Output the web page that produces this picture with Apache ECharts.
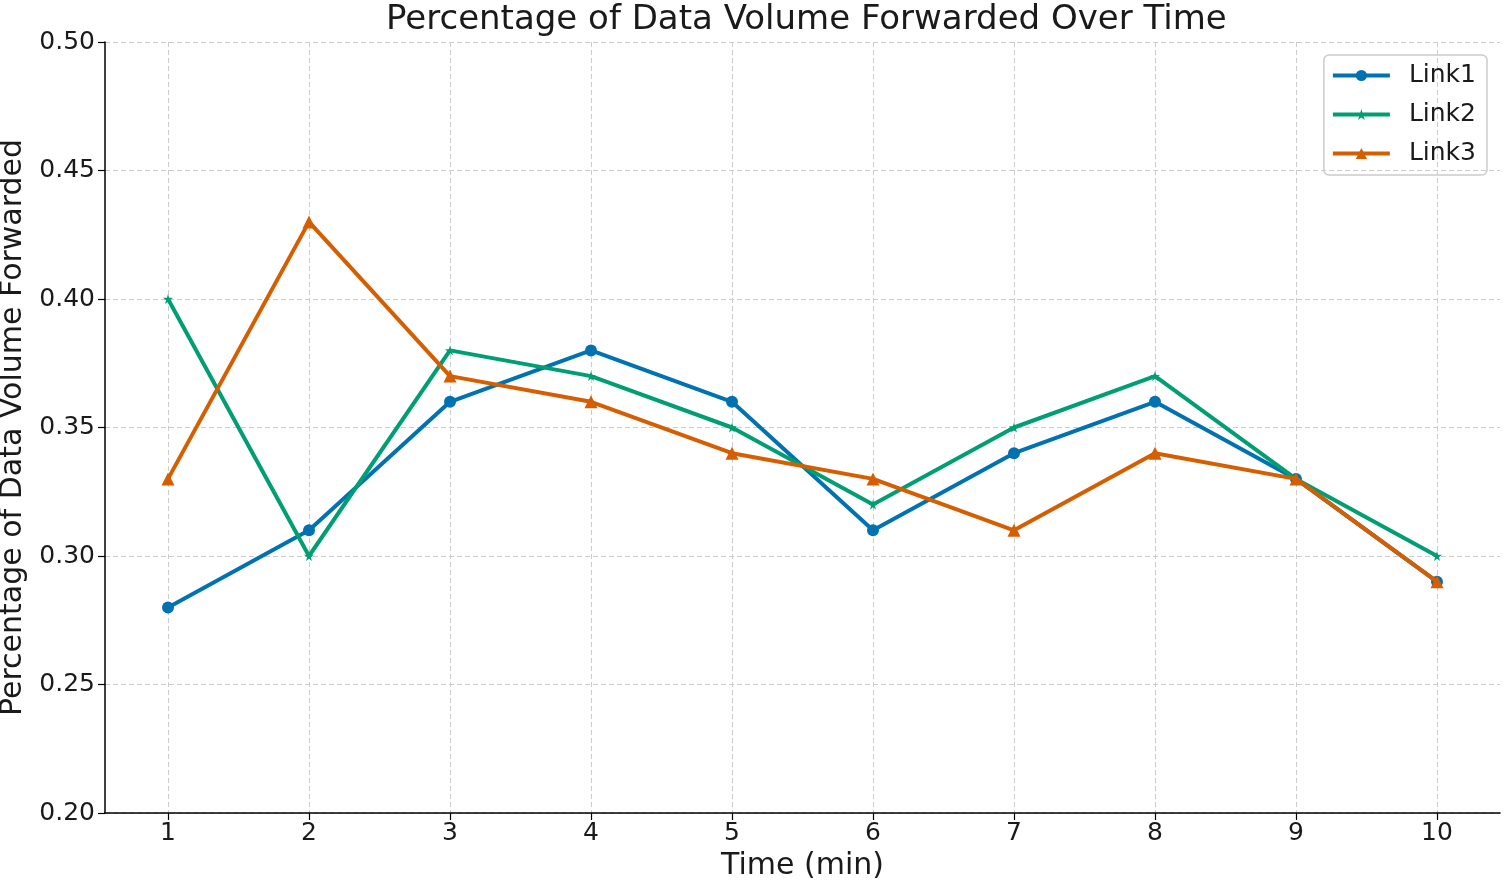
<!DOCTYPE html>
<html>
<head>
<meta charset="utf-8">
<script src="https://cdn.jsdelivr.net/npm/echarts@6/dist/echarts.min.js"></script>
<style>html,body{margin:0;padding:0;background:#fff;}#c{width:1505px;height:884px;}</style>
</head>
<body>
<div id="c"></div>
<script>
const times = [1, 2, 3, 4, 5, 6, 7, 8, 9, 10];
const link1 = [0.28, 0.31, 0.36, 0.38, 0.36, 0.31, 0.34, 0.36, 0.33, 0.29];
const link2 = [0.40, 0.30, 0.38, 0.37, 0.35, 0.32, 0.35, 0.37, 0.33, 0.30];
const link3 = [0.33, 0.43, 0.37, 0.36, 0.34, 0.33, 0.31, 0.34, 0.33, 0.29];
const seriesNames = ['Link1', 'Link2', 'Link3'];

const FONT = 'DejaVu Sans';
const star = 'path://M50,0 L61,35 L98,35 L68,57 L79,91 L50,70 L21,91 L32,57 L2,35 L39,35 Z';
const colors = ['#0072B2', '#009E73', '#D55E00'];
const symbols = ['circle', star, 'triangle'];
const sizes = [12, 10, 13];
const allData = [link1, link2, link3];

const chart = echarts.init(document.getElementById('c'));
const G = {top: 42, bottom: 71};
chart.setOption({
  animation: false,
  backgroundColor: '#fff',
  title: {
    text: 'Percentage of Data Volume Forwarded Over Time',
    left: 381, top: -2,
    textStyle: {fontFamily: FONT, fontSize: 34, fontWeight: 'normal', color: '#1a1a1a'}
  },
  legend: {
    orient: 'vertical', right: 18, top: 55,
    itemWidth: 57, itemHeight: 14, itemGap: 14,
    padding: [8, 11, 9, 7],
    borderColor: '#ccc', borderWidth: 1.5, borderRadius: 5,
    lineStyle: {width: 4},
    textStyle: {fontFamily: FONT, fontSize: 25, color: '#1a1a1a', padding: [0, 0, 0, 14]},
    data: seriesNames
  },
  grid: [
    {left: 105, right: 5, top: G.top, bottom: G.bottom, outerBoundsMode: 'none', containLabel: false},
    {left: 168, right: 68, top: G.top, bottom: G.bottom, outerBoundsMode: 'none', containLabel: false}
  ],
  xAxis: [
    {gridIndex: 0, type: 'value', min: 0, max: 1,
      axisLine: {show: true, lineStyle: {color: '#000', width: 1.5}},
      axisTick: {show: false}, axisLabel: {show: false}, splitLine: {show: false}},
    {gridIndex: 1, type: 'value', min: 1, max: 10, interval: 1,
      name: 'Time (min)', nameLocation: 'middle', nameGap: 38,
      nameTextStyle: {fontFamily: FONT, fontSize: 30, color: '#1a1a1a'},
      axisLine: {show: false},
      axisTick: {show: true, length: 7, lineStyle: {color: '#000', width: 1.2}},
      axisLabel: {fontFamily: FONT, fontSize: 25, color: '#1a1a1a', margin: 8},
      splitLine: {show: true, lineStyle: {type: [5, 3], color: '#ccc', width: 1}}}
  ],
  yAxis: [
    {gridIndex: 0, type: 'value', min: 0.2, max: 0.5, interval: 0.05,
      name: 'Percentage of Data Volume Forwarded', nameLocation: 'middle', nameGap: 75,
      nameTextStyle: {fontFamily: FONT, fontSize: 30, color: '#1a1a1a'},
      axisLine: {show: true, lineStyle: {color: '#000', width: 1.5}},
      axisTick: {show: true, length: 7, lineStyle: {color: '#000', width: 1.2}},
      axisLabel: {fontFamily: FONT, fontSize: 25, color: '#1a1a1a', margin: 10,
        formatter: v => v.toFixed(2)},
      splitLine: {show: true, lineStyle: {type: [5, 3], color: '#ccc', width: 1}}},
    {gridIndex: 1, type: 'value', min: 0.2, max: 0.5, show: false, splitLine: {show: false}}
  ],
  series: seriesNames.map((name, i) => ({
    name: name, type: 'line', xAxisIndex: 1, yAxisIndex: 1,
    data: times.map((t, j) => [t, allData[i][j]]),
    symbol: symbols[i], symbolSize: sizes[i], showAllSymbol: true,
    lineStyle: {width: 4, color: colors[i]},
    itemStyle: {color: colors[i]},
    z: 3 + i
  }))
});
</script>
</body>
</html>
